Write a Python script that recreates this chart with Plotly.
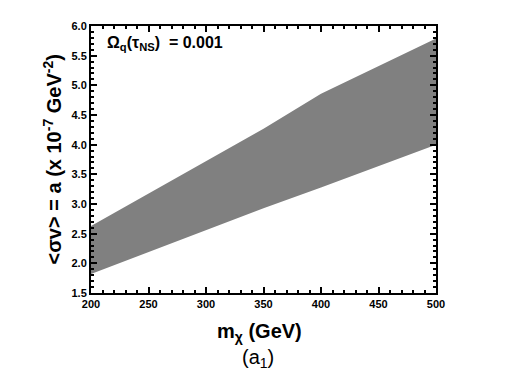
import plotly.graph_objects as go

# Masa del candidato (GeV) y límites de la banda <σv> (x 1e-7 GeV^-2)
masa = [200, 250, 300, 350, 400, 450, 500]
sigma_sup = [2.63, 3.18, 3.72, 4.27, 4.86, 5.32, 5.79]
sigma_inf = [1.82, 2.19, 2.55, 2.93, 3.28, 3.64, 4.00]

x_ticks = [200, 250, 300, 350, 400, 450, 500]
y_ticks = [1.5, 2.0, 2.5, 3.0, 3.5, 4.0, 4.5, 5.0, 5.5, 6.0]

GRIS = "#808080"
FUENTE = "Liberation Sans, Arial, sans-serif"

fig = go.Figure()
fig.add_trace(go.Scatter(x=masa, y=sigma_inf, mode="lines", line=dict(width=0, color=GRIS),
                         showlegend=False, hoverinfo="skip"))
fig.add_trace(go.Scatter(x=masa, y=sigma_sup, mode="lines", line=dict(width=0, color=GRIS),
                         fill="tonexty", fillcolor=GRIS, showlegend=False))

eje = dict(showline=True, linecolor="black", linewidth=2, mirror="allticks",
           ticks="inside", ticklen=6, tickwidth=2, tickcolor="black",
           showgrid=False, zeroline=False,
           tickfont=dict(family=FUENTE, size=11, color="black", weight="bold"))

# La página añade 8 px de margen al body: figura de 489x362 para caber en la ventana.
fig.update_layout(
    width=489, height=362,
    margin=dict(l=83, r=61, t=15, b=77),
    plot_bgcolor="white", paper_bgcolor="white",
    xaxis=dict(range=[200, 500], tickvals=x_ticks, ticktext=[str(v) for v in x_ticks],
               minor=dict(dtick=10, tick0=200, ticks="inside", ticklen=3, tickwidth=2, tickcolor="black"),
               **eje),
    yaxis=dict(range=[1.5, 6.0], tickvals=y_ticks, ticktext=[f"{v:.1f}" for v in y_ticks],
               minor=dict(dtick=0.1, tick0=1.5, ticks="inside", ticklen=3, tickwidth=2, tickcolor="black"),
               **eje),
)

fig.add_annotation(text="<b>Ω<sub>q</sub>(τ<sub>NS</sub>)  = 0.001</b>", xref="paper", yref="paper",
                   x=0.04, y=0.935, xanchor="left", yanchor="middle", showarrow=False,
                   font=dict(family=FUENTE, size=16, color="black"))
fig.add_annotation(text="<b><σv> = a (x 10<sup>-7</sup> GeV<sup>-2</sup>)</b>", xref="paper", yref="paper",
                   x=-0.113, y=0.5, xanchor="center", yanchor="middle", textangle=-90, showarrow=False,
                   font=dict(family=FUENTE, size=20, color="black"))
fig.add_annotation(text="<b>m<sub>χ</sub> (GeV)</b>", xref="paper", yref="paper",
                   x=0.487, y=-0.148, xanchor="center", yanchor="middle", showarrow=False,
                   font=dict(family=FUENTE, size=20, color="black"))
fig.add_annotation(text="(a<sub>1</sub>)", xref="paper", yref="paper",
                   x=0.484, y=-0.245, xanchor="center", yanchor="middle", showarrow=False,
                   font=dict(family=FUENTE, size=20, color="black"))

fig.write_html("out.html")
